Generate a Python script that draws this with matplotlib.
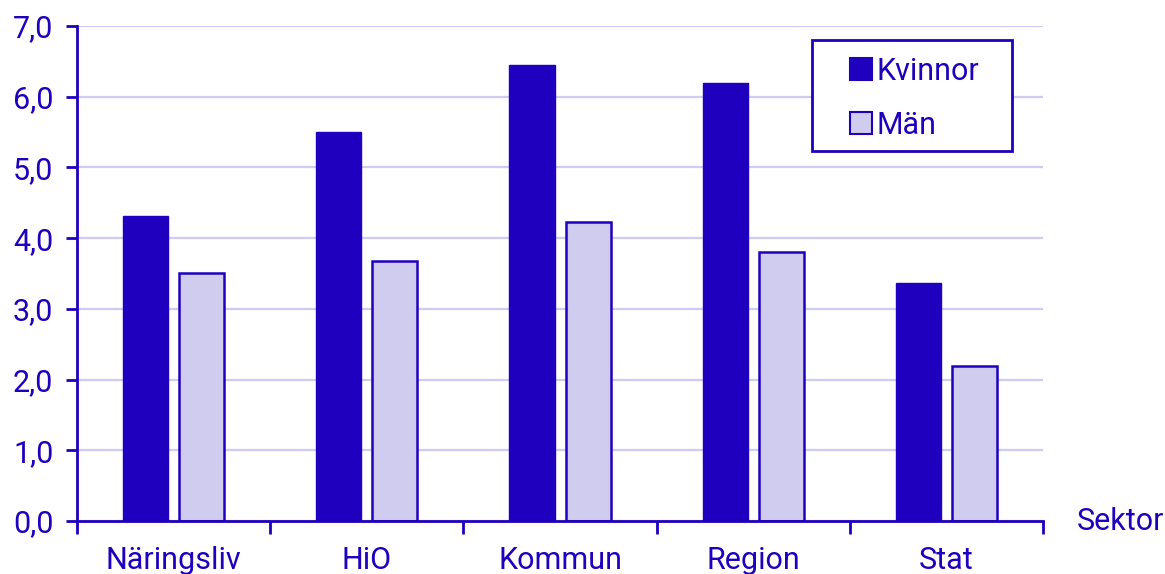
import matplotlib
matplotlib.use("Agg")
import matplotlib.pyplot as plt
import numpy as np
from matplotlib.patches import Patch, Rectangle

categories = ["Näringsliv", "HiO", "Kommun", "Region", "Stat"]
kvinnor = [4.31, 5.50, 6.45, 6.20, 3.37]
man = [3.51, 3.68, 4.23, 3.80, 2.19]
yticks = [0, 1, 2, 3, 4, 5, 6, 7]
ytick_labels = ["0,0", "1,0", "2,0", "3,0", "4,0", "5,0", "6,0", "7,0"]

DARK = "#1E00BE"
LIGHT = "#D0CCF0"
GRID = "#CFCBF2"

plt.rcParams['font.family'] = ['Roboto', 'DejaVu Sans']
FS = 22

fig = plt.figure(figsize=(11.65, 5.74), dpi=100)
ax = fig.add_axes([0.0661, 0.0923, 0.8292, 0.8624])

x = np.arange(len(categories))
w = 0.233
off = 0.145
ax.bar(x - off, kvinnor, w, color=DARK, edgecolor=DARK, linewidth=1.0, zorder=3, label="Kvinnor")
ax.bar(x + off, man, w, color=LIGHT, edgecolor=DARK, linewidth=1.8, zorder=3, label="Män")

ax.set_xlim(-0.5, len(categories) - 0.5)
ax.set_ylim(0, 7)
ax.set_yticks(yticks)
ax.set_yticklabels(ytick_labels)
ax.set_xticks(x)
ax.set_xticklabels(categories)
ax.set_xticks(np.arange(-0.5, len(categories), 1.0), minor=True)

ax.yaxis.grid(True, color=GRID, linewidth=1.6, zorder=0)
ax.set_axisbelow(True)

for s in ["top", "right"]:
    ax.spines[s].set_visible(False)
for s in ["left", "bottom"]:
    ax.spines[s].set_color(DARK)
    ax.spines[s].set_linewidth(2)
    ax.spines[s].set_zorder(4)

ax.tick_params(axis="y", colors=DARK, labelcolor=DARK, labelsize=FS, length=8, width=2, pad=9)
ax.tick_params(axis="x", which="major", length=0, labelcolor=DARK, labelsize=FS, pad=18)
ax.tick_params(axis="x", which="minor", length=9, width=2, color=DARK)

fig.text(0.9245, 0.0923, "Sektor", color=DARK, fontsize=FS, ha="left", va="center")

# legend frame
frame = Rectangle((0.697, 0.7369), 0.1717, 0.1934, transform=fig.transFigure,
                  facecolor="white", edgecolor=DARK, linewidth=2, zorder=5)
fig.patches.append(frame)

handles = [Patch(facecolor=DARK, edgecolor=DARK, linewidth=1.5), Patch(facecolor=LIGHT, edgecolor=DARK, linewidth=1.5)]
leg = fig.legend(handles, ["Kvinnor", "Män"], loc="upper left", bbox_to_anchor=(0.7296, 0.9007),
                 bbox_transform=fig.transFigure,
                 fontsize=FS, frameon=False, handlelength=0.72, handleheight=0.72,
                 handletextpad=0.15, labelspacing=0.82, borderpad=0, borderaxespad=0)
for t in leg.get_texts():
    t.set_color(DARK)
leg.set_zorder(6)

fig.savefig("out.png", dpi=100)
